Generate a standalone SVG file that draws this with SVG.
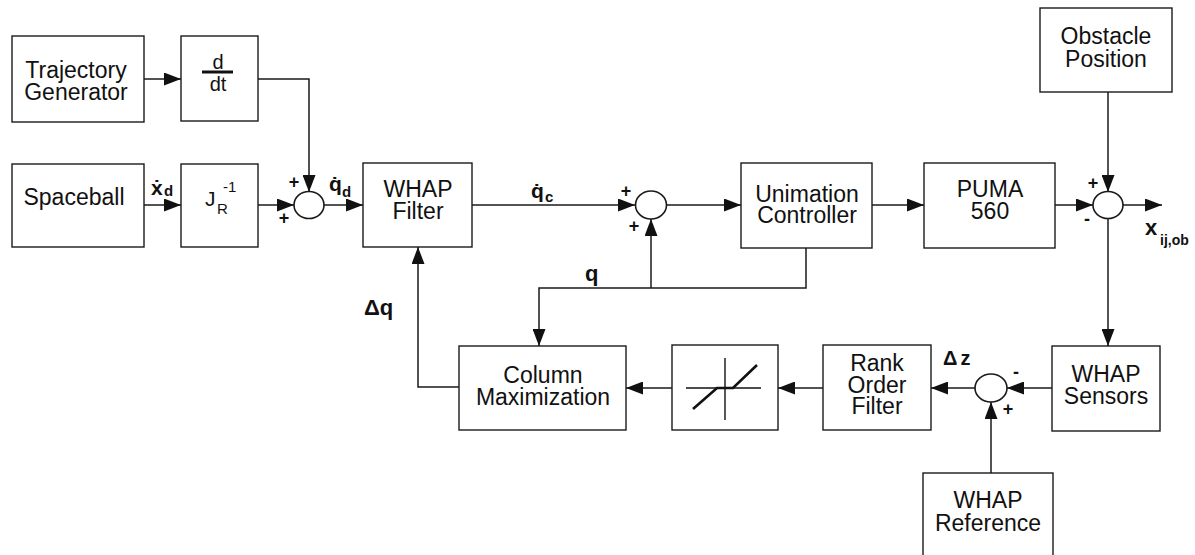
<svg xmlns="http://www.w3.org/2000/svg" width="1195" height="555" viewBox="0 0 1195 555">
<style>
.box{fill:#fff;stroke:#1a1a1a;stroke-width:1.4}
.sum{fill:#fff;stroke:#1a1a1a;stroke-width:1.6}
.t{font-family:"Liberation Sans",Arial,sans-serif;font-size:23px;fill:#111;text-anchor:middle}
.lb{font-family:"Liberation Sans","DejaVu Sans",Arial,sans-serif;font-weight:bold;fill:#111}
.sg{font-family:"Liberation Sans",Arial,sans-serif;font-weight:bold;font-size:18px;fill:#111;text-anchor:middle}
.c{fill:none;stroke:#1a1a1a;stroke-width:1.5}
.ca{fill:none;stroke:#1a1a1a;stroke-width:1.5;marker-end:url(#ah)}
</style>
<defs>
<marker id="ah" markerUnits="userSpaceOnUse" markerWidth="17" markerHeight="13" refX="17" refY="6.5" orient="auto">
<path d="M0,0 L17,6.5 L0,13 z" fill="#111"/>
</marker>
</defs>
<rect width="1195" height="555" fill="#fff"/>

<g id="connectors">
<path class="ca" d="M144,79 H181"/>
<path class="ca" d="M258,79 H309 V192"/>
<path class="ca" d="M144,205 H181"/>
<path class="ca" d="M258,205 H294"/>
<path class="ca" d="M324,205 H363"/>
<path class="ca" d="M471,205 H635"/>
<path class="ca" d="M667,205 H741"/>
<path class="ca" d="M872,205 H924"/>
<path class="ca" d="M1055,205 H1093"/>
<path class="ca" d="M1108,92 V192"/>
<path class="ca" d="M1123,205 H1162"/>
<path class="ca" d="M1108,218 V346"/>
<path class="ca" d="M1052,388 H1007"/>
<path class="ca" d="M991,473 V402"/>
<path class="ca" d="M975,388 H931"/>
<path class="ca" d="M823,388 H778"/>
<path class="ca" d="M672,388 H626"/>
<path class="ca" d="M459,387 H418 V247"/>
<path class="ca" d="M806,248 V288 H539 V346"/>
<path class="ca" d="M651,288 V219"/>
</g>

<g id="trajectory-generator">
<rect class="box" x="12" y="36" width="132" height="86"/>
<text class="t" x="76" y="78">Trajectory</text>
<text class="t" x="76" y="100">Generator</text>
</g>

<g id="ddt">
<rect class="box" x="181" y="36" width="77" height="85"/>
<text class="t" x="218" y="69" style="font-size:20px">d</text>
<line x1="202" y1="72" x2="233" y2="72" stroke="#111" stroke-width="3"/>
<text class="t" x="218" y="91" style="font-size:20px">dt</text>
</g>

<g id="spaceball">
<rect class="box" x="12" y="164" width="132" height="83"/>
<text class="t" x="74" y="205">Spaceball</text>
</g>

<g id="jacobian">
<rect class="box" x="181" y="164" width="77" height="83"/>
<text x="205" y="206" style="font-family:'Liberation Sans',Arial,sans-serif;font-size:21px;fill:#111">J</text>
<text x="217" y="214" style="font-family:'Liberation Sans',Arial,sans-serif;font-size:15px;fill:#111">R</text>
<text x="223" y="192" style="font-family:'Liberation Sans',Arial,sans-serif;font-size:15px;fill:#111">-1</text>
</g>

<g id="sum1">
<ellipse class="sum" cx="309" cy="205" rx="15" ry="13.5"/>
<text class="sg" x="294" y="188">+</text>
<text class="sg" x="284" y="224">+</text>
</g>

<g id="whap-filter">
<rect class="box" x="363" y="163" width="109" height="84"/>
<text class="t" x="418" y="197">WHAP</text>
<text class="t" x="418" y="219">Filter</text>
</g>

<g id="sum2">
<ellipse class="sum" cx="651" cy="205" rx="15.5" ry="14"/>
<text class="sg" x="626" y="197">+</text>
<text class="sg" x="634" y="232">+</text>
</g>

<g id="unimation-controller">
<rect class="box" x="741" y="163" width="131" height="85"/>
<text class="t" x="807" y="202">Unimation</text>
<text class="t" x="807" y="223">Controller</text>
</g>

<g id="puma-560">
<rect class="box" x="924" y="163" width="131" height="85"/>
<text class="t" x="990" y="197">PUMA</text>
<text class="t" x="990" y="219">560</text>
</g>

<g id="obstacle-position">
<rect class="box" x="1040" y="8" width="132" height="84"/>
<text class="t" x="1106" y="44">Obstacle</text>
<text class="t" x="1106" y="67">Position</text>
</g>

<g id="sum3">
<ellipse class="sum" cx="1108" cy="205" rx="15" ry="13.5"/>
<text class="sg" x="1093" y="189">+</text>
<text class="sg" x="1087" y="225">-</text>
</g>

<g id="whap-sensors">
<rect class="box" x="1052" y="346" width="108" height="85"/>
<text class="t" x="1106" y="382">WHAP</text>
<text class="t" x="1106" y="404">Sensors</text>
</g>

<g id="sum4">
<ellipse class="sum" cx="991" cy="388" rx="16" ry="14"/>
<text class="sg" x="1016" y="378">-</text>
<text class="sg" x="1008" y="415">+</text>
</g>

<g id="whap-reference">
<rect class="box" x="923" y="473" width="130" height="95"/>
<text class="t" x="988" y="508">WHAP</text>
<text class="t" x="988" y="531">Reference</text>
</g>

<g id="rank-order-filter">
<rect class="box" x="823" y="345" width="108" height="85"/>
<text class="t" x="877" y="371">Rank</text>
<text class="t" x="877" y="393">Order</text>
<text class="t" x="877" y="414">Filter</text>
</g>

<g id="saturation">
<rect class="box" x="672" y="345" width="106" height="85"/>
<line x1="686" y1="388" x2="761" y2="388" stroke="#111" stroke-width="1.4"/>
<line x1="725" y1="358" x2="725" y2="420" stroke="#111" stroke-width="1.4"/>
<polyline points="693,409 717,388 733,388 757,365" fill="none" stroke="#111" stroke-width="2.6"/>
</g>

<g id="column-maximization">
<rect class="box" x="459" y="346" width="167" height="84"/>
<text class="t" x="543" y="383">Column</text>
<text class="t" x="543" y="405">Maximization</text>
</g>

<g id="labels">
<text class="lb" x="151" y="195" style="font-size:21px">ẋ</text>
<text class="lb" x="164" y="196" style="font-size:15px">d</text>
<text class="lb" x="329" y="191" style="font-size:21px">q̇</text>
<text class="lb" x="342" y="197" style="font-size:15px">d</text>
<text class="lb" x="531" y="198" style="font-size:21px">q̇</text>
<text class="lb" x="545" y="202" style="font-size:15px">c</text>
<text class="lb" x="585" y="281" style="font-size:22px">q</text>
<text class="lb" x="364" y="315" style="font-size:22px">Δq</text>
<text class="lb" x="943" y="365" style="font-size:20px;letter-spacing:3px">Δz</text>
<text class="lb" x="1145" y="235" style="font-size:22px">x</text>
<text class="lb" x="1160" y="245" style="font-size:14px">ij,ob</text>
</g>
</svg>
